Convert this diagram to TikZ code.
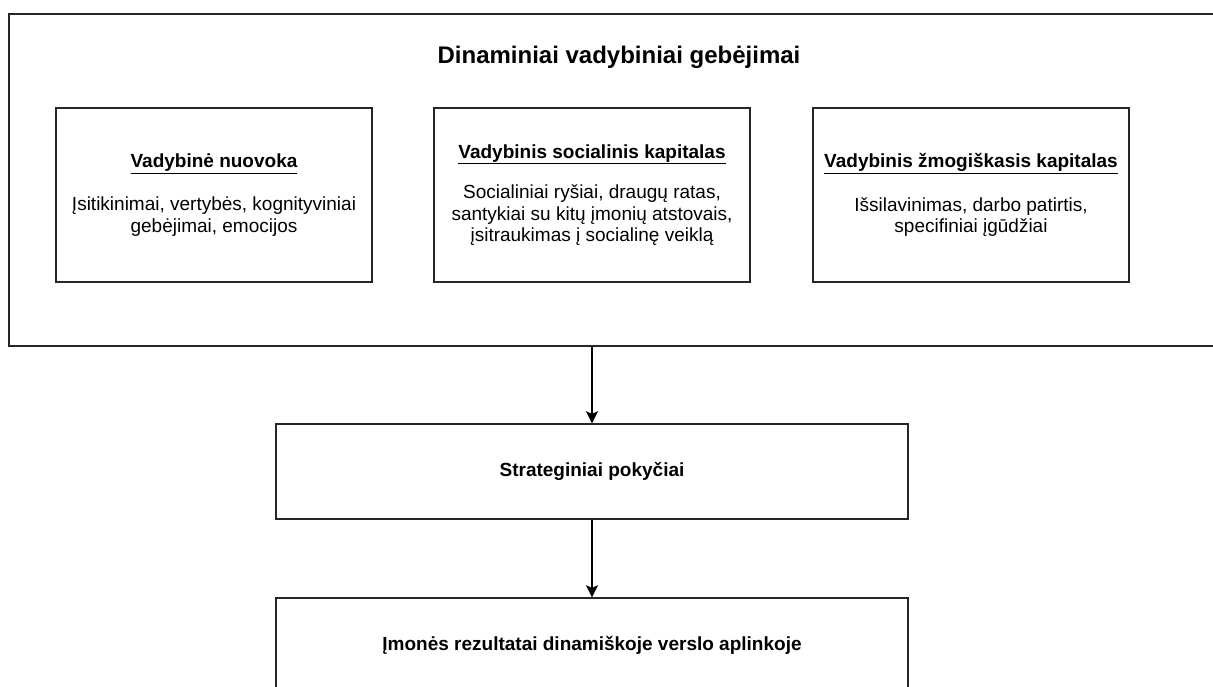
\documentclass[tikz,border=0pt]{standalone}
\usepackage{fontspec}
\setmainfont{Liberation Sans}
\usetikzlibrary{arrows.meta}
\begin{document}
\begin{tikzpicture}[x=1pt,y=-1pt,
  box/.style={draw=black!85, line width=1.4pt, inner sep=0pt, align=center,
    font=\fontsize{19}{21.5}\selectfont},
  inner box/.style={box, minimum width=316pt, minimum height=174pt},
  flow box/.style={box, minimum width=632pt, minimum height=95pt, font=\fontsize{19}{21.5}\selectfont\bfseries},
  arr/.style={draw=black, line width=1.4pt, -{Stealth[length=12pt,width=12pt,inset=2.5pt]}}]
\path[use as bounding box, clip] (0,0) rectangle (1213,686);
\fill[white] (0,0) rectangle (1213,686);
\node[box, line width=2pt, minimum width=1222pt, minimum height=332pt, anchor=north west] (outer) at (8,13) {};
\node[font=\fontsize{24}{28}\selectfont\bfseries] (title) at (619,57) {Dinaminiai vadybiniai gebėjimai};
\node[inner box] (b1) at (214,195) {{\bfseries\underline{Vadybinė nuovoka}}\\[22pt]Įsitikinimai, vertybės, kognityviniai\\gebėjimai, emocijos};
\node[inner box] (b2) at (592,195) {{\bfseries\underline{Vadybinis socialinis kapitalas}}\\[19pt]Socialiniai ryšiai, draugų ratas,\\santykiai su kitų įmonių atstovais,\\įsitraukimas į socialinę veiklą};
\node[inner box] (b3) at (971,195) {{\bfseries\underline{Vadybinis žmogiškasis kapitalas}}\\[22pt]Išsilavinimas, darbo patirtis,\\specifiniai įgūdžiai};
\node[flow box] (strat) at (592,471.5) {Strateginiai pokyčiai};
\node[flow box] (result) at (592,645.5) {Įmonės rezultatai dinamiškoje verslo aplinkoje};
\draw[arr] (strat.north |- outer.south) -- (strat.north);
\draw[arr] (strat.south) -- (result.north);
\end{tikzpicture}
\end{document}
